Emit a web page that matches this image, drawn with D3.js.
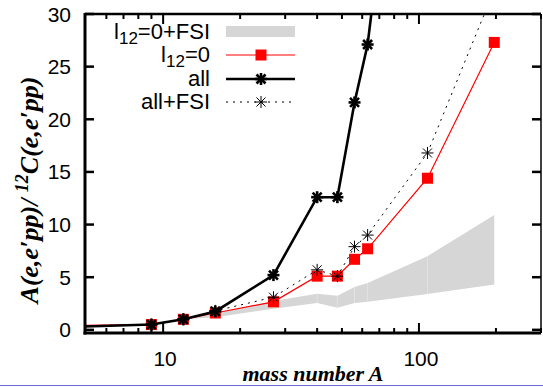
<!DOCTYPE html>
<html>
<head>
<meta charset="utf-8">
<script src="https://cdn.jsdelivr.net/npm/d3@7"></script>
<style>
  body { margin: 0; background: #fff; }
  svg { display: block; }
</style>
</head>
<body>
<div id="chart"></div>
<script>
// values
const massA    = [4, 9, 12, 16, 27, 40, 48, 56, 63, 108, 197];
const l12zero  = [0.4, 0.5, 1, 1.6, 2.66, 5.1, 5.1, 6.7, 7.7, 14.4, 27.3];
const allPairs = [0.25, 0.5, 1, 1.75, 5.2, 12.6, 12.6, 21.6, 27.1, 74, null];
const allFSI   = [0.35, 0.5, 1, 1.8, 3.1, 5.7, 5.1, 7.9, 9.0, 16.8, 32.3];
const bandLo   = [null, 0.45, 1, 1.2, 2.0, 2.56, 2.1, 2.56, 2.66, 3.4, 4.3];
const bandHi   = [null, 0.5, 1, 1.5, 2.75, 3.42, 3.23, 4.08, 4.46, 7.0, 10.9];
const yTicks = [0, 5, 10, 15, 20, 25, 30];
const xMajor = [10, 100];
const xMinor = [6, 7, 8, 9, 20, 30, 40, 50, 60, 70, 80, 90, 200, 300];

const W = 543, H = 387;
const pL = 85, pR = 541, pT = 14, pB = 333;

const svg = d3.select("#chart").append("svg")
    .attr("width", W).attr("height", H);

const x = d3.scaleLog().domain([4.95, 300]).range([pL, pR]);
const y = d3.scaleLinear().domain([-0.3, 30]).range([pB, pT]);

svg.append("defs").append("clipPath").attr("id", "clip")
    .append("rect").attr("x", pL).attr("y", pT)
    .attr("width", pR - pL).attr("height", pB - pT);

// thin blue rule at the bottom edge
svg.append("line").attr("x1", 0).attr("x2", W).attr("y1", 385.5).attr("y2", 385.5)
    .attr("stroke", "#6b6bd6").attr("stroke-width", 1);

const plot = svg.append("g").attr("clip-path", "url(#clip)");

// grey band: l12=0 + FSI
const band = massA.map((a, i) => ({a, lo: bandLo[i], hi: bandHi[i]})).filter(d => d.lo != null);
plot.append("path")
    .datum(band)
    .attr("fill", "#d6d6d6")
    .attr("d", d3.area().x(d => x(d.a)).y0(d => y(d.lo)).y1(d => y(d.hi)));
// faint seams at the data points, like the original polygons
band.slice(1, -1).forEach(d => {
  plot.append("line")
      .attr("x1", x(d.a)).attr("x2", x(d.a))
      .attr("y1", y(d.lo)).attr("y2", y(d.hi))
      .attr("stroke", "#e6e6e6").attr("stroke-width", 0.8);
});

const line = d3.line().defined(d => d.v != null).x(d => x(d.a)).y(d => y(d.v));
const series = vals => massA.map((a, i) => ({a, v: vals[i]}));

function star(g, cx, cy, r, w) {
  const pts = [[r, 0], [0, r], [r * 0.75, r * 0.75], [r * 0.75, -r * 0.75]];
  pts.forEach(([dx, dy]) => {
    g.append("line")
        .attr("x1", cx - dx).attr("y1", cy - dy)
        .attr("x2", cx + dx).attr("y2", cy + dy)
        .attr("stroke", "#000").attr("stroke-width", w);
  });
}
const inRange = d => d.v != null && d.a >= 4.95 && d.a <= 300 && d.v <= 30;

// l12 = 0
const red = series(l12zero);
plot.append("path").datum(red)
    .attr("fill", "none").attr("stroke", "#ff0000").attr("stroke-width", 1.2)
    .attr("d", line);
plot.selectAll(".sq").data(red.filter(inRange)).enter().append("rect")
    .attr("class", "sq")
    .attr("x", d => x(d.a) - 5.5).attr("y", d => y(d.v) - 5.5)
    .attr("width", 11).attr("height", 11)
    .attr("fill", "#ff0000");

// all
const all = series(allPairs);
plot.append("path").datum(all)
    .attr("fill", "none").attr("stroke", "#000").attr("stroke-width", 2.6)
    .attr("d", line);
all.filter(inRange).forEach(d => star(plot, x(d.a), y(d.v), 6, 2.6));

// all + FSI
const fsi = series(allFSI);
plot.append("path").datum(fsi)
    .attr("fill", "none").attr("stroke", "#000").attr("stroke-width", 1)
    .attr("stroke-dasharray", "2,5")
    .attr("d", line);
fsi.filter(inRange).forEach(d => star(plot, x(d.a), y(d.v), 6, 1));

// frame + ticks
const axis = svg.append("g").attr("stroke", "#000");
yTicks.forEach(t => {
  axis.append("line").attr("x1", pL).attr("x2", pL + 9)
      .attr("y1", y(t)).attr("y2", y(t)).attr("stroke-width", 2.5);
  axis.append("line").attr("x1", pR - 9).attr("x2", pR)
      .attr("y1", y(t)).attr("y2", y(t)).attr("stroke-width", 2.5);
});
xMajor.forEach(t => {
  axis.append("line").attr("x1", x(t)).attr("x2", x(t))
      .attr("y1", pB).attr("y2", pB - 10).attr("stroke-width", 2);
  axis.append("line").attr("x1", x(t)).attr("x2", x(t))
      .attr("y1", pT).attr("y2", pT + 10).attr("stroke-width", 2);
});
xMinor.forEach(t => {
  axis.append("line").attr("x1", x(t)).attr("x2", x(t))
      .attr("y1", pB).attr("y2", pB - 5).attr("stroke-width", 2);
  axis.append("line").attr("x1", x(t)).attr("x2", x(t))
      .attr("y1", pT).attr("y2", pT + 5).attr("stroke-width", 2);
});
axis.append("line").attr("x1", pL).attr("x2", pR).attr("y1", pT).attr("y2", pT).attr("stroke-width", 2.5);
axis.append("line").attr("x1", pR).attr("x2", pR).attr("y1", pT).attr("y2", pB).attr("stroke-width", 1.5);
axis.append("line").attr("x1", pL).attr("x2", pL).attr("y1", pT - 1).attr("y2", pB + 1.5).attr("stroke-width", 3);
axis.append("line").attr("x1", pL - 1.5).attr("x2", pR).attr("y1", pB).attr("y2", pB).attr("stroke-width", 3);

const sans = "'Liberation Sans', Arial, Helvetica, sans-serif";
const serif = "'Liberation Serif', 'Times New Roman', serif";

svg.selectAll(".ylab").data(yTicks).enter().append("text")
    .attr("x", 71).attr("y", d => y(d)).attr("dy", "0.36em")
    .attr("text-anchor", "end").attr("font-family", sans).attr("font-size", 21)
    .text(d => d);
svg.selectAll(".xlab").data(xMajor).enter().append("text")
    .attr("x", d => x(d) + 2).attr("y", 366)
    .attr("text-anchor", "middle").attr("font-family", sans).attr("font-size", 21)
    .text(d => d);

// axis titles
svg.append("text")
    .attr("x", 313).attr("y", 381)
    .attr("text-anchor", "middle").attr("font-family", serif)
    .attr("font-size", 22).attr("font-weight", "bold").attr("font-style", "italic")
    .text("mass number A");

const yt = svg.append("text")
    .attr("transform", "translate(38,190) rotate(-90)")
    .attr("text-anchor", "middle").attr("font-family", serif)
    .attr("font-size", 26).attr("font-weight", "bold").attr("font-style", "italic");
yt.append("tspan").text("A(e,e\u2032pp)/ ");
yt.append("tspan").attr("font-size", 18).attr("dy", -10).text("12");
yt.append("tspan").attr("dy", 10).text("C(e,e\u2032pp)");

// legend
const lg = svg.append("g");
const rows = [31.5, 55, 79, 102];
const labels = [["l", "12", "=0+FSI"], ["l", "12", "=0"], ["all"], ["all+FSI"]];
labels.forEach((parts, i) => {
  const t = lg.append("text").attr("x", 210).attr("y", rows[i] + 7)
      .attr("text-anchor", "end").attr("font-family", sans).attr("font-size", 22);
  t.append("tspan").text(parts[0]);
  if (parts.length > 1) {
    t.append("tspan").attr("font-size", 17).attr("dy", 5).text(parts[1]);
    t.append("tspan").attr("dy", -5).text(parts[2]);
  }
});
lg.append("rect").attr("x", 226).attr("y", rows[0] - 5.5).attr("width", 69).attr("height", 11)
    .attr("fill", "#d6d6d6");
lg.append("line").attr("x1", 226).attr("x2", 295).attr("y1", rows[1]).attr("y2", rows[1])
    .attr("stroke", "#ff0000").attr("stroke-width", 1.2);
lg.append("rect").attr("x", 261 - 5.5).attr("y", rows[1] - 5.5).attr("width", 11).attr("height", 11)
    .attr("fill", "#ff0000");
lg.append("line").attr("x1", 226).attr("x2", 295).attr("y1", rows[2]).attr("y2", rows[2])
    .attr("stroke", "#000").attr("stroke-width", 2.6);
star(lg, 261, rows[2], 6, 2.6);
lg.append("line").attr("x1", 226).attr("x2", 295).attr("y1", rows[3]).attr("y2", rows[3])
    .attr("stroke", "#000").attr("stroke-width", 1).attr("stroke-dasharray", "2,5");
star(lg, 261, rows[3], 6, 1);
</script>
</body>
</html>
